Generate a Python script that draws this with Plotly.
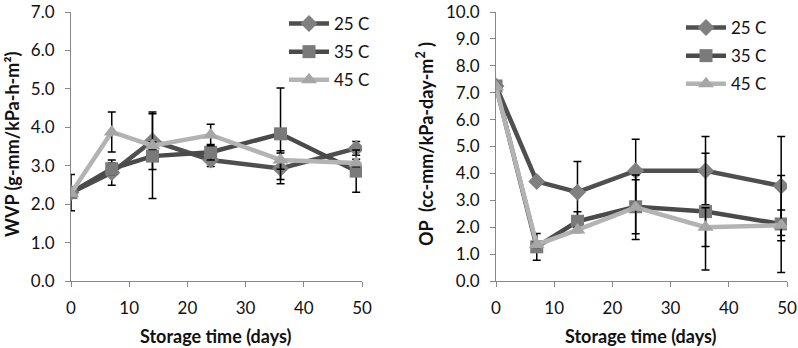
import plotly.graph_objects as go

days = [0, 7, 14, 24, 36, 49]
series_names = ["25 C", "35 C", "45 C"]

# WVP (g-mm/kPa-h-m2)
wvp_25 = [2.30, 2.82, 3.65, 3.15, 2.93, 3.45]
wvp_35 = [2.30, 2.92, 3.25, 3.35, 3.83, 2.86]
wvp_45 = [2.28, 3.88, 3.52, 3.80, 3.15, 3.07]
wvp_err_25 = [0.47, 0.33, 0.75, 0.17, 0.40, 0.18]
wvp_err_35 = [0.00, 0.15, 1.10, 0.20, 1.19, 0.55]
wvp_err_45 = [0.00, 0.52, 0.10, 0.28, 0.24, 0.10]

# OP (cc-mm/kPa-day-m2)
op_25 = [7.25, 3.70, 3.30, 4.10, 4.10, 3.53]
op_35 = [7.25, 1.27, 2.22, 2.76, 2.58, 2.12]
op_45 = [7.22, 1.35, 1.90, 2.74, 2.00, 2.07]
op_err_25 = [0.00, 0.10, 1.14, 1.17, 1.27, 1.84]
op_err_35 = [0.00, 0.50, 0.35, 1.00, 2.17, 1.80]
op_err_45 = [0.00, 0.10, 0.10, 1.20, 0.72, 0.57]

x_ticks = [0, 10, 20, 30, 40, 50]
wvp_ticks = [0, 1, 2, 3, 4, 5, 6, 7]
op_ticks = [0, 1, 2, 3, 4, 5, 6, 7, 8, 9, 10]

W, H = 798, 348
FONT = "Lato"


def px(x):
    return x / W


def py(y):
    return 1 - y / H


styles = [
    dict(line_color="#4f4f4f", marker_color="#808080", symbol="diamond", size=13),
    dict(line_color="#4a4a4a", marker_color="#7a7a7a", symbol="square", size=13),
    dict(line_color="#b3b3b3", marker_color="#a6a6a6", symbol="triangle-up", size=14),
]

fig = go.Figure()

panels = [
    ("x", "y", "legend", [wvp_25, wvp_35, wvp_45], [wvp_err_25, wvp_err_35, wvp_err_45]),
    ("x2", "y2", "legend2", [op_25, op_35, op_45], [op_err_25, op_err_35, op_err_45]),
]
for xa, ya, leg, vals, errs in panels:
    for name, v, e, st in zip(series_names, vals, errs, styles):
        fig.add_trace(go.Scatter(
            x=days, y=v, name=name, xaxis=xa, yaxis=ya, legend=leg,
            legendgroup=leg + name,
            mode="lines+markers",
            line=dict(color=st["line_color"], width=4.5),
            marker=dict(symbol=st["symbol"], size=st["size"], color=st["marker_color"],
                        line=dict(width=0)),
            error_y=dict(type="data", array=e, visible=True, color="#000000",
                         thickness=1.5, width=4),
        ))

axis_common = dict(showgrid=False, zeroline=False, showline=True, linecolor="#878787",
                   linewidth=1, ticks="outside", ticklen=5, tickcolor="#878787",
                   tickfont=dict(family=FONT, size=17, color="#111111"),
                   ticklabelstandoff=7, automargin=False, ticklabeloverflow="allow")

title_font = dict(family=FONT, size=18, color="#111111")
ann_common = dict(xref="paper", yref="paper", showarrow=False,
                  xanchor="center", yanchor="middle", font=title_font)

fig.update_layout(
    width=W, height=H,
    margin=dict(l=0, r=0, t=0, b=0),
    paper_bgcolor="white", plot_bgcolor="white",
    showlegend=True,
    xaxis=dict(domain=[px(71), px(362)], range=[0, 50], tickvals=x_ticks,
               anchor="y", **axis_common),
    yaxis=dict(domain=[py(281), py(12)], range=[0, 7], tickvals=wvp_ticks,
               tickformat=".1f", anchor="x", **axis_common),
    xaxis2=dict(domain=[px(496), px(787)], range=[0, 50], tickvals=x_ticks,
                anchor="y2", **axis_common),
    yaxis2=dict(domain=[py(281), py(12)], range=[0, 10], tickvals=op_ticks,
                tickformat=".1f", anchor="x2", **axis_common),
    legend=dict(x=px(284), y=py(6), xanchor="left", yanchor="top",
                font=dict(family=FONT, size=17, color="#111111"),
                bgcolor="rgba(0,0,0,0)", tracegroupgap=3, itemwidth=40),
    legend2=dict(x=px(681), y=py(10), xanchor="left", yanchor="top",
                 font=dict(family=FONT, size=17, color="#111111"),
                 bgcolor="rgba(0,0,0,0)", tracegroupgap=3, itemwidth=40),
    annotations=[
        dict(text="<b>WVP (g-mm/kPa-h-m²)</b>", x=px(12), y=py(145),
             textangle=-90, **ann_common),
        dict(text="<b>OP  (cc-mm/kPa-day-m<sup>2</sup> )</b>", x=px(425), y=py(144),
             textangle=-90, **ann_common),
        dict(text="<b>Storage time (days)</b>", x=px(216), y=py(336), **ann_common),
        dict(text="<b>Storage time (days)</b>", x=px(641), y=py(336), **ann_common),
    ],
)

fig.write_html(
    "out.html",
    config={"displayModeBar": False},
    post_script="document.body.style.margin='0';document.body.style.overflow='hidden';",
)
